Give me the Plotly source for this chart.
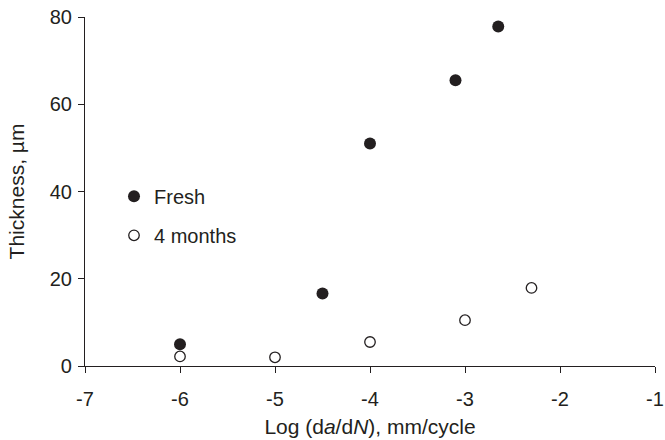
import plotly.graph_objects as go

fresh_x = [-6.0, -4.5, -4.0, -3.1, -2.65]
fresh_y = [5.0, 16.6, 51.0, 65.5, 77.8]
aged_x = [-6.0, -5.0, -4.0, -3.0, -2.3]
aged_y = [2.2, 2.0, 5.5, 10.5, 17.9]
x_ticks = [-7, -6, -5, -4, -3, -2, -1]
y_ticks = [0, 20, 40, 60, 80]

ink = "#231f20"
font = "Liberation Sans, Arial, sans-serif"

fig = go.Figure()
fig.add_trace(go.Scatter(
    x=fresh_x, y=fresh_y, mode="markers", name="Fresh", legendgroup="a",
    marker=dict(symbol="circle", size=12, color=ink, line=dict(width=0)),
    cliponaxis=False))
fig.add_trace(go.Scatter(
    x=aged_x, y=aged_y, mode="markers", name="4 months", legendgroup="b",
    marker=dict(symbol="circle", size=10.5, color="white", line=dict(width=1.3, color=ink)),
    cliponaxis=False))

axis_common = dict(showgrid=False, zeroline=False, showline=True, linecolor=ink,
                   linewidth=1.2, ticks="outside", ticklen=6, tickcolor=ink,
                   tickwidth=1.2, tickfont=dict(size=20, color=ink, family=font),
                   automargin=False)

fig.update_layout(
    width=665, height=440,
    margin=dict(l=85, r=10, t=17, b=74),
    paper_bgcolor="white", plot_bgcolor="white",
    font=dict(family=font, color=ink),
    xaxis=dict(range=[-7, -1], tickvals=x_ticks, ticktext=[str(v) for v in x_ticks],
               ticklabelstandoff=9, ticklabeloverflow="allow",
               title=dict(text="Log (d<i>a</i>/d<i>N</i>), mm/cycle",
                          font=dict(size=21, color=ink), standoff=10),
               **axis_common),
    yaxis=dict(range=[0, 80], tickvals=y_ticks, ticktext=[str(v) for v in y_ticks],
               ticklabelstandoff=2,
               title=dict(text="Thickness, µm", font=dict(size=21, color=ink), standoff=19),
               **axis_common),
    showlegend=True,
    legend=dict(x=(114 - 85) / 570, y=0.542, xanchor="left", yanchor="top",
                bgcolor="rgba(0,0,0,0)", traceorder="grouped", tracegroupgap=10,
                font=dict(size=20, color=ink, family=font), itemwidth=30),
)

fig.write_html("out.html", config={"displayModeBar": False},
               post_script="document.body.style.margin='0';")
